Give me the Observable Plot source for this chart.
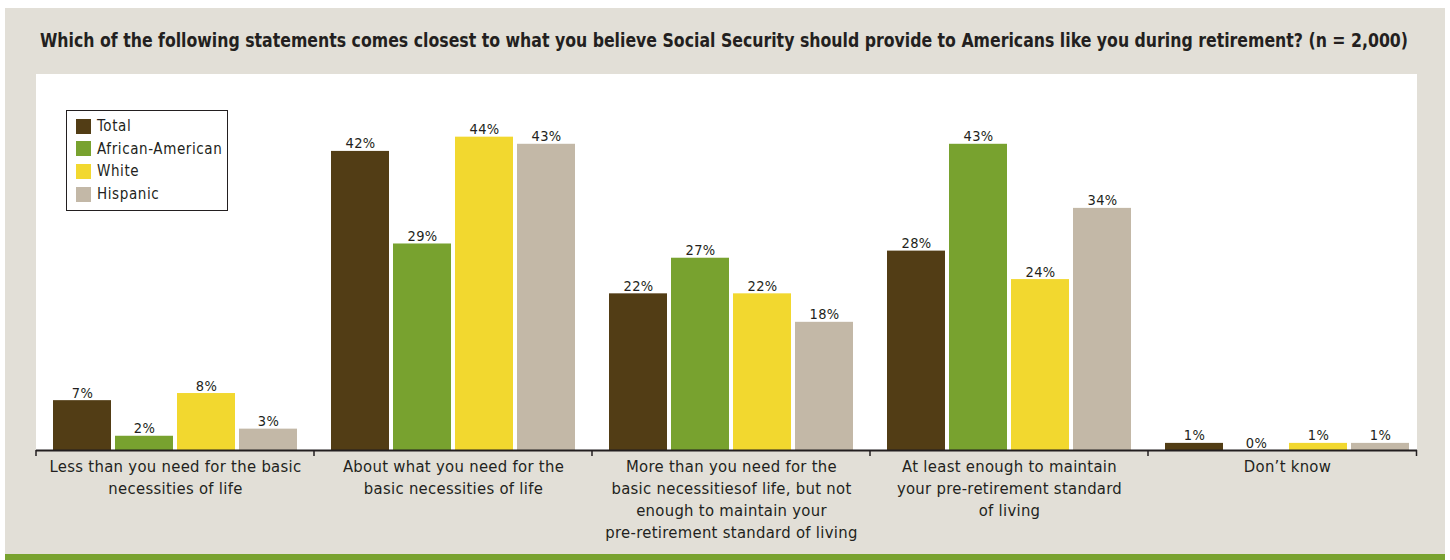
<!DOCTYPE html>
<html>
<head>
<meta charset="utf-8">
<script src="https://cdn.jsdelivr.net/npm/d3@7"></script>
<script src="https://cdn.jsdelivr.net/npm/@observablehq/plot@0.6"></script>
<style>
  html, body { margin: 0; padding: 0; background: #ffffff; }
  #wrap { position: relative; width: 1450px; height: 560px; overflow: hidden;
          font-family: "DejaVu Sans Condensed", "Liberation Sans Narrow", "Liberation Sans", sans-serif; color: #231f20; }
  #bg { position: absolute; left: 5px; top: 8px; width: 1440px; height: 546px; background: #e2dfd7; }
  #stripe { position: absolute; left: 5px; top: 554px; width: 1440px; height: 6px; background: #78a22f; }
  #panel { position: absolute; left: 36px; top: 74px; width: 1381px; height: 376px; background: #ffffff; }
  #title { position: absolute; left: 0; top: 0; }
  #chart { position: absolute; left: 0; top: 74px; }
  #chart svg text { letter-spacing: 0.3px; }
  #chart svg .catlabel text { letter-spacing: 0.6px; }
  #legend { position: absolute; left: 66px; top: 110px; width: 162px; height: 101px; box-sizing: border-box;
            border: 1.5px solid #231f20; background: #ffffff; padding: 4px 0 0 9px; }
  .lrow { display: flex; align-items: center; height: 22.6px; font-size: 15px; letter-spacing: 0.6px; white-space: nowrap; }
  .lsw { width: 15px; height: 15px; margin-right: 6px; flex: none; }
</style>
</head>
<body>
<div id="wrap">
  <div id="bg"></div>
  <div id="stripe"></div>
  <div id="panel"></div>
  <svg id="title" width="1450" height="70"></svg>
  <div id="chart"></div>
  <div id="legend"></div>
</div>
<script>
// ---- data ----
const titleText = "Which of the following statements comes closest to what you believe Social Security should provide to Americans like you during retirement? (n = 2,000)";
const categories = [
  "Less than you need for the basic necessities of life",
  "About what you need for the basic necessities of life",
  "More than you need for the basic necessitiesof life, but not enough to maintain your pre-retirement standard of living",
  "At least enough to maintain your pre-retirement standard of living",
  "Don\u2019t know"
];
const categoryTickLabels = [
  "Less than you need for the basic\nnecessities of life",
  "About what you need for the\nbasic necessities of life",
  "More than you need for the\nbasic necessitiesof life, but not\nenough to maintain your\npre-retirement standard of living",
  "At least enough to maintain\nyour pre-retirement standard\nof living",
  "Don\u2019t know"
];
const series = ["Total", "African-American", "White", "Hispanic"];
const seriesColors = ["#523d15", "#78a22f", "#f2d82f", "#c3b8a7"];
const totalValues = [7, 42, 22, 28, 1];
const africanAmericanValues = [2, 29, 27, 43, 0];
const whiteValues = [8, 44, 22, 24, 1];
const hispanicValues = [3, 43, 18, 34, 1];

// ---- build table ----
const valueLists = [totalValues, africanAmericanValues, whiteValues, hispanicValues];
const rows = [];
categories.forEach((c, i) => {
  series.forEach((s, j) => rows.push({category: c, series: s, value: valueLists[j][i]}));
});
const catRows = categories.map((c, i) => ({category: c, label: categoryTickLabels[i]}));
const lastCat = categories[categories.length - 1];

const FONT = '"DejaVu Sans Condensed", "Liberation Sans Narrow", "Liberation Sans", sans-serif';
const INK = "#231f20";
const PANEL_RIGHT = 1417;

const chart = Plot.plot({
  width: 1450,
  height: 486,
  marginLeft: 36,
  marginRight: 24,
  marginTop: 0,
  marginBottom: 110,
  style: {fontFamily: FONT, background: "transparent", overflow: "visible", color: INK},
  fx: {domain: categories, padding: 0, axis: null},
  x: {domain: series, paddingInner: 0.072, paddingOuter: 0.246, axis: null},
  y: {domain: [0, 52.8], axis: null},
  color: {domain: series, range: seriesColors},
  marks: [
    Plot.barY(rows, {fx: "category", x: "series", y: "value", fill: "series"}),
    Plot.text(rows, {fx: "category", x: "series", y: "value", text: d => d.value + "%",
      lineAnchor: "bottom", dy: -3, fontSize: 14.5, fill: INK}),
    Plot.ruleY(catRows.filter(d => d.category !== lastCat), {fx: "category", y: () => 0, stroke: INK, strokeWidth: 2.2}),
    Plot.ruleY(catRows.filter(d => d.category === lastCat), {fx: "category", y: () => 0, stroke: INK, strokeWidth: 2.2, insetRight: 9}),
    Plot.text(catRows, {fx: "category", text: "label", frameAnchor: "bottom", lineAnchor: "top",
      dy: 6, fontSize: 16.5, lineHeight: 1.33, fill: INK, ariaLabel: "category label"})
  ]
});
document.getElementById("chart").appendChild(chart);
const svg = d3.select(chart);
svg.selectAll('g[aria-label="category label"]').classed("catlabel", true);

// boundary ticks between categories, from the fx scale (the last one sits on the panel edge)
const fxs = chart.scale("fx");
const ys = chart.scale("y");
const y0 = ys.range[0];
const step = (fxs.range[1] - fxs.range[0]) / fxs.domain.length;
const tg = svg.append("g").attr("stroke", INK).attr("stroke-width", 1.5);
for (let i = 0; i <= fxs.domain.length; i++) {
  const xb = Math.min(fxs.range[0] + i * step, PANEL_RIGHT - 0.5);
  tg.append("line").attr("x1", xb).attr("x2", xb).attr("y1", y0).attr("y2", y0 + 6);
}

// legend
const leg = d3.select("#legend");
series.forEach((s, j) => {
  const r = leg.append("div").attr("class", "lrow");
  r.append("div").attr("class", "lsw").style("background", seriesColors[j]);
  r.append("span").text(s);
});

// title fitted to the reference width, slightly stretched vertically like the condensed original
d3.select("#title").append("text")
  .attr("x", 40).attr("y", 0)
  .attr("transform", "translate(0,46.5) scale(1,1.1)")
  .attr("textLength", 1368).attr("lengthAdjust", "spacingAndGlyphs")
  .attr("font-family", FONT).attr("font-weight", "bold").attr("font-size", 18)
  .attr("fill", INK)
  .text(titleText);
</script>
</body>
</html>
